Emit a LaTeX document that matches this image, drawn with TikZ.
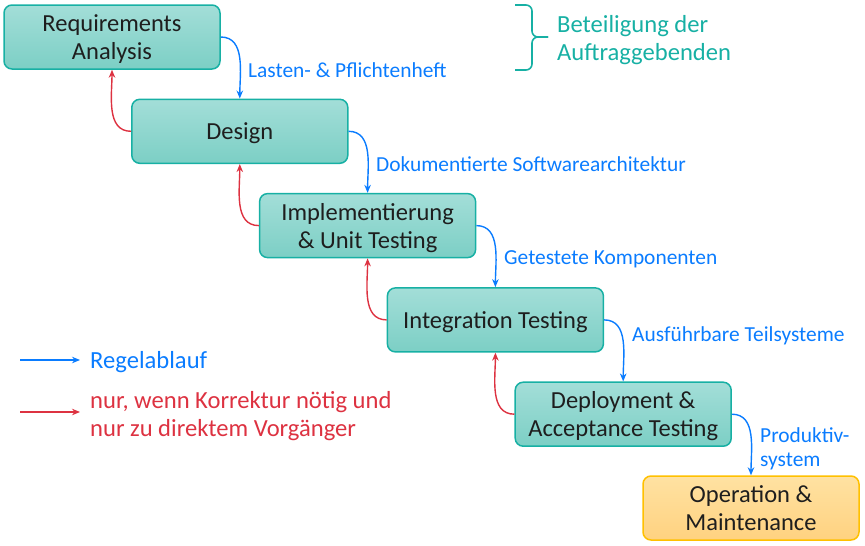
\documentclass[tikz,border=0pt]{standalone}
\usepackage{fontspec}
\setmainfont{Carlito}
\usepackage{tikz}
\usetikzlibrary{arrows,arrows.meta,shapes,calc,positioning}
\definecolor{turkis}{RGB}{23,176,164}
\definecolor{turkisHell}{RGB}{163,222,216}
\definecolor{turkisDunkel}{RGB}{124,207,197}
\definecolor{orangeRand}{RGB}{255,192,0}
\definecolor{orangeHell}{RGB}{255,226,162}
\definecolor{orangeDunkel}{RGB}{255,210,128}
\definecolor{blau}{RGB}{10,124,255}
\definecolor{rot}{RGB}{221,50,65}
\definecolor{schwarz}{RGB}{30,30,30}
\tikzstyle{phase}=[rectangle, rounded corners=8pt, draw=turkis,
                   line width=1.5pt, top color=turkisHell,
                   bottom color=turkisDunkel, minimum width=216pt,
                   minimum height=64pt, align=center, text=schwarz,
                   text depth=0pt, font=\fontsize{24.5}{28}\selectfont]
\tikzstyle{endphase}=[phase, draw=orangeRand, top color=orangeHell,
                   bottom color=orangeDunkel]
\tikzstyle{flow}  =[->, >={Stealth[length=8pt,width=6.5pt]}, draw=blau,
                   line width=1.4pt]
\tikzstyle{back}  =[->, >={Stealth[length=8pt,width=6.5pt]}, draw=rot,
                   line width=1.4pt]
\tikzstyle{doc}   =[anchor=west, inner sep=0pt, text=blau, align=left,
                   font=\fontsize{21.4}{24}\selectfont]
\tikzstyle{legende}=[anchor=west, inner sep=0pt, align=left, yshift=-2pt,
                   font=\fontsize{24.6}{28}\selectfont]

\begin{document}
\begin{tikzpicture}[x=1pt,y=1pt]
    \useasboundingbox (0,0) rectangle (865,-546);

    % Phasen
    \foreach \i/\txt in {1/{Requirements\\Analysis},2/Design,
        3/{Implementierung\\\& Unit Testing},4/Integration Testing,
        5/{Deployment \&\\Acceptance Testing}}
        \node (\i)[phase] at ({112+127.8*(\i-1)},{-37-94.3*(\i-1)}) {\txt};
    \node (6)[endphase] at (751,-508) {Operation \&\\Maintenance};

    % Regelablauf
    \foreach \i/\j in {1/2,2/3,3/4,4/5,5/6}
        \draw [flow] (\i.east) to[out=0,in=90] (\j.north);

    % Korrektur
    \foreach \i/\j in {2/1,3/2,4/3,5/4}
        \draw [back] (\i.west) to[out=180,in=-90] (\j.south);

    % Dokumente
    \node (d1)[doc] at (248,-70) {Lasten- \& Pflichtenheft};
    \node (d2)[doc] at (376,-164) {Dokumentierte Softwarearchitektur};
    \node (d3)[doc] at (504,-259) {Getestete Komponenten};
    \node (d4)[doc] at (632,-336) {Ausführbare Teilsysteme};
    \node (d5)[doc] at (760,-449) {Produktiv-\\system};

    % Auftraggebende
    \draw [turkis, line width=1.6pt, rounded corners=6pt]
        (515,-5) -- (532,-5) -- (532,-37) -- (548,-37);
    \draw [turkis, line width=1.6pt, rounded corners=6pt]
        (515,-70) -- (532,-70) -- (532,-37) -- (548,-37);
    \node (auf)[legende, text=turkis] at (557,-38)
        {Beteiligung der\\Auftraggebenden};

    % Legende
    \coordinate (lb) at (20,-360);
    \node (regel)[legende, text=blau] at (90,-360) {Regelablauf};
    \draw [flow, line width=1.2pt, shorten >=10pt] (lb) -- (lb -| regel.west);
    \coordinate (lr) at (20,-412);
    \node (korr)[legende, text=rot] at (90,-414)
        {nur, wenn Korrektur nötig und\\nur zu direktem Vorgänger};
    \draw [back, line width=1.2pt, shorten >=10pt] (lr) -- (lr -| korr.west);

\end{tikzpicture}
\end{document}
